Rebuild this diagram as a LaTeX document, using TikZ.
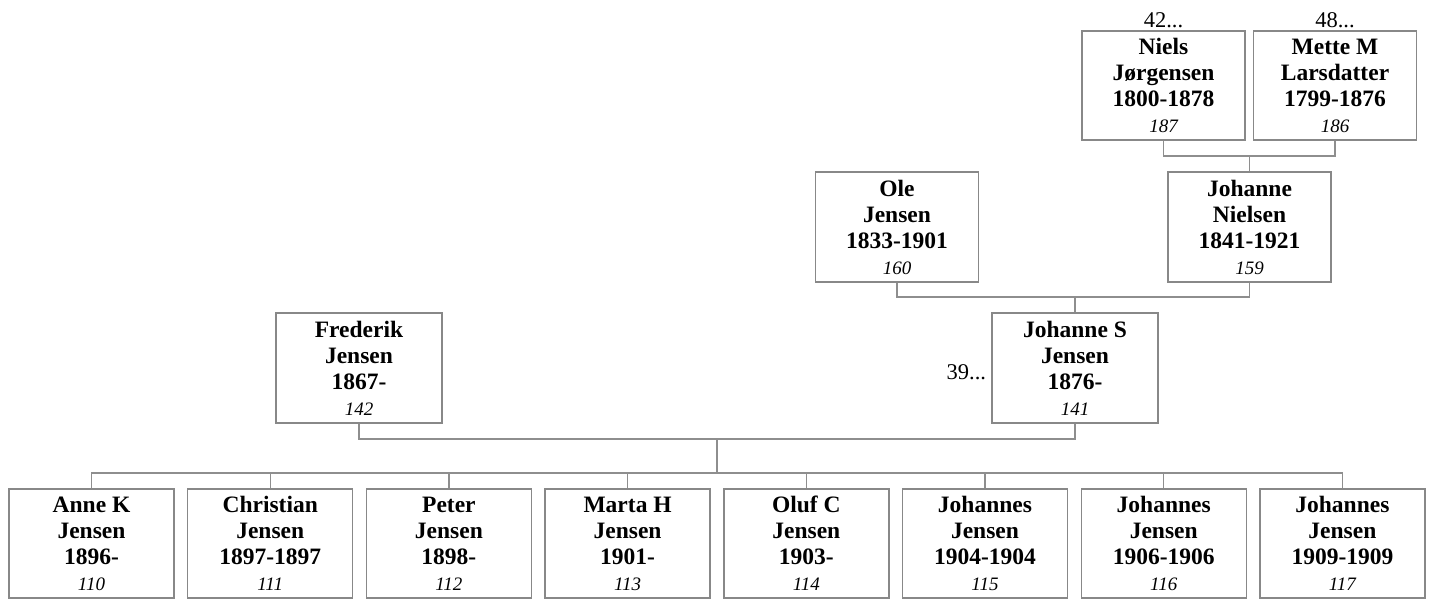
\documentclass[tikz,border=0pt]{standalone}
\usepackage{fontspec}
\setmainfont{Liberation Serif}
\usetikzlibrary{positioning}
\definecolor{BoxGray}{HTML}{888888}
\definecolor{LinkGray}{HTML}{8E8E8E}

\tikzset{
  person/.style={
    draw=BoxGray,
    line width=1.4pt,
    minimum width=165pt,
    minimum height=109pt,
    inner sep=2pt,
    align=center,
    font=\fontsize{23.5}{26}\selectfont\bfseries
  },
  link/.style={draw=LinkGray, line width=1.3pt},
  more/.style={font=\fontsize{22.5}{26}\selectfont, inner sep=1pt}
}
\newcommand{\nr}[1]{{\fontsize{19}{26}\selectfont\mdseries\itshape #1}}

\begin{document}
\begin{tikzpicture}[x=1pt,y=-1pt]
  \useasboundingbox (0,0) rectangle (1432,600);

  % grandparents of Johanne S
  \node[person, minimum width=163pt] (niels) at (1163.5,85.5) {Niels\\Jørgensen\\1800-1878\\\nr{187}};
  \node[person, minimum width=163pt] (mette) at (1335,85.5) {Mette M\\Larsdatter\\1799-1876\\\nr{186}};
  \node[more, above=1pt of niels] (nielsmore) {42...};
  \node[more, above=1pt of mette] (mettemore) {48...};

  % parents of Johanne S
  \node[person, minimum width=163pt, minimum height=110pt] (ole) at (897,227) {Ole\\Jensen\\1833-1901\\\nr{160}};
  \node[person, minimum width=163pt, minimum height=110pt] (johannen) at (1249.5,227) {Johanne\\Nielsen\\1841-1921\\\nr{159}};

  % the couple
  \node[person, minimum width=166pt, minimum height=110pt] (frederik) at (359,368) {Frederik\\Jensen\\1867-\\\nr{142}};
  \node[person, minimum width=166pt, minimum height=110pt] (johannes) at (1075,368) {Johanne S\\Jensen\\1876-\\\nr{141}};
  \node[more, left=4pt of johannes, yshift=-4pt] (johannesmore) {39...};

  % children
  \node[person] (anne) at (91.5,543.5) {Anne K\\Jensen\\1896-\\\nr{110}};
  \node[person] (christian) at (270.2,543.5) {Christian\\Jensen\\1897-1897\\\nr{111}};
  \node[person] (peter) at (448.9,543.5) {Peter\\Jensen\\1898-\\\nr{112}};
  \node[person] (marta) at (627.6,543.5) {Marta H\\Jensen\\1901-\\\nr{113}};
  \node[person] (oluf) at (806.3,543.5) {Oluf C\\Jensen\\1903-\\\nr{114}};
  \node[person] (johannesA) at (985,543.5) {Johannes\\Jensen\\1904-1904\\\nr{115}};
  \node[person] (johannesB) at (1163.7,543.5) {Johannes\\Jensen\\1906-1906\\\nr{116}};
  \node[person] (johannesC) at (1342.4,543.5) {Johannes\\Jensen\\1909-1909\\\nr{117}};

  % family bars
  \coordinate (famN) at (1249.5,156);
  \coordinate (famO) at (1075,297);
  \coordinate (famF) at (717,439);
  \coordinate (kids) at (717,473);

  \draw[link] (niels.south) |- (famN) -| (mette.south);
  \draw[link] (famN) -- (johannen.north);
  \draw[link] (ole.south) |- (famO) -| (johannen.south);
  \draw[link] (famO) -- (johannes.north);
  \draw[link] (frederik.south) |- (famF) -| (johannes.south);
  \draw[link] (famF) -- (kids);
  \draw[link] (anne.north) |- (kids) -| (johannesC.north);
  \draw[link] (christian.north) -- (christian.north |- kids);
  \draw[link] (peter.north) -- (peter.north |- kids);
  \draw[link] (marta.north) -- (marta.north |- kids);
  \draw[link] (oluf.north) -- (oluf.north |- kids);
  \draw[link] (johannesA.north) -- (johannesA.north |- kids);
  \draw[link] (johannesB.north) -- (johannesB.north |- kids);
\end{tikzpicture}
\end{document}
